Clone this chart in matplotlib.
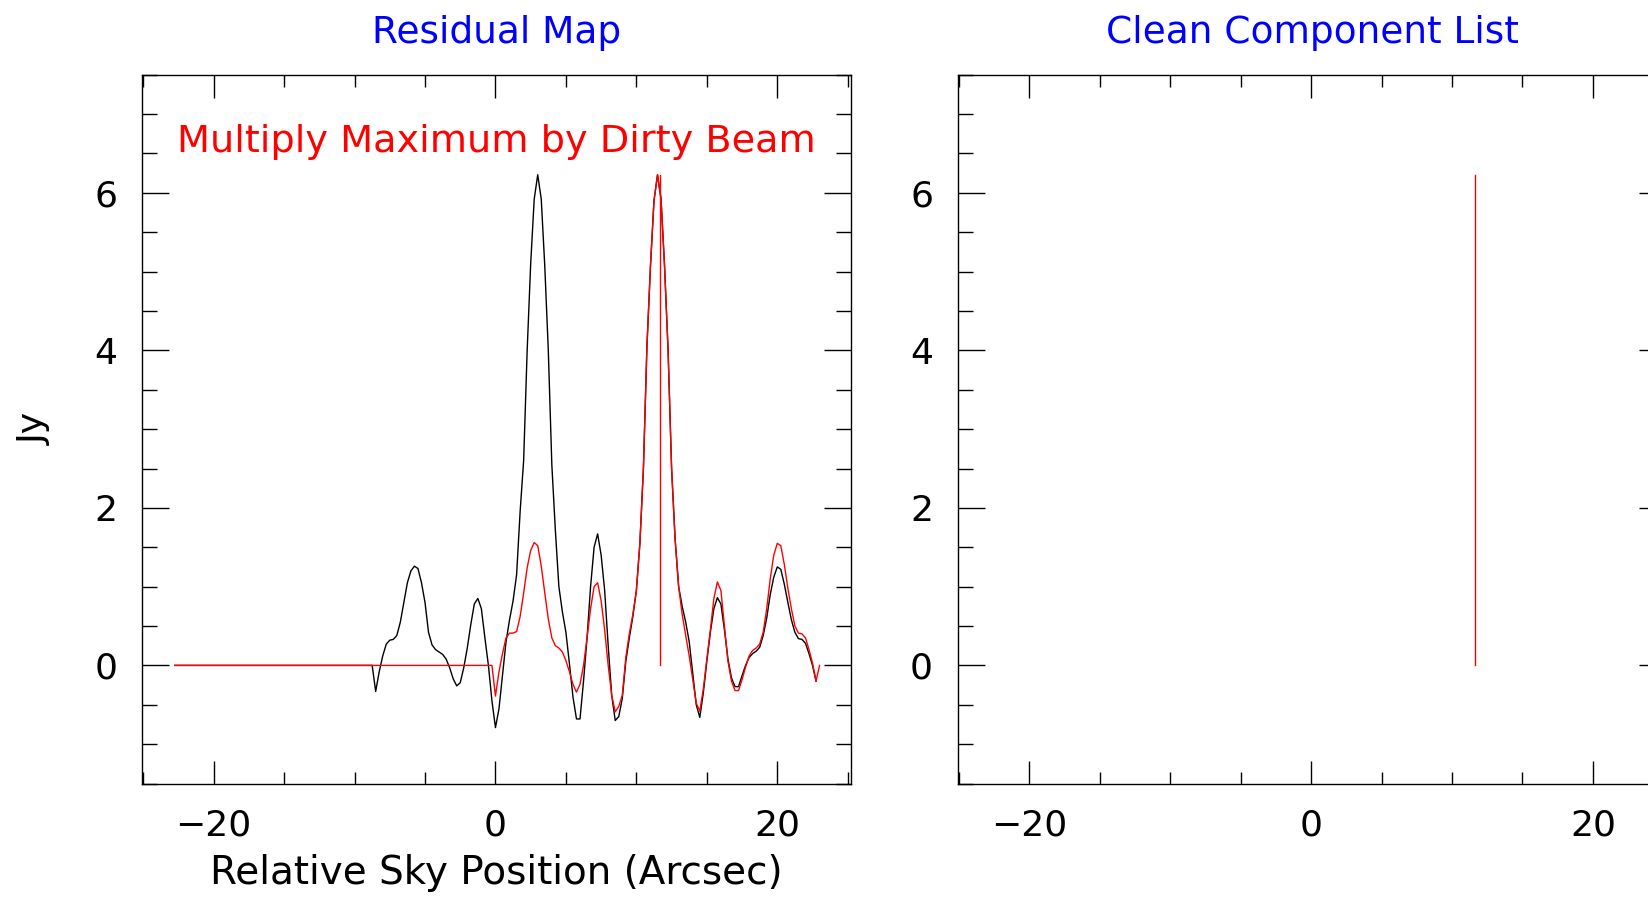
import numpy as np
import matplotlib
matplotlib.use('Agg')
import matplotlib.pyplot as plt
from matplotlib.ticker import MultipleLocator

plt.rcParams['font.family'] = ['DejaVu Sans']
plt.rcParams['font.size'] = 25

# residual map (black)
residual_x = [-22.75, -8.75, -8.5, -8.25, -8.0, -7.75, -7.5, -7.25, -7.0, -6.75, -6.5, -6.25,
              -6.0, -5.75, -5.5, -5.25, -5.0, -4.75, -4.5, -4.25, -4.0, -3.75, -3.5, -3.25,
              -3.0, -2.75, -2.5, -2.25, -2.0, -1.75, -1.5, -1.25, -1.0, -0.75, -0.5, -0.25,
              0.0, 0.25, 0.5, 0.75, 1.0, 1.25, 1.5, 1.75, 2.0, 2.25, 2.5, 2.75,
              3.0, 3.25, 3.5, 3.75, 4.0, 4.25, 4.5, 4.75, 5.0, 5.25, 5.5, 5.75,
              6.0, 6.25, 6.5, 6.75, 7.0, 7.25, 7.5, 7.75, 8.0, 8.25, 8.5, 8.75,
              9.0, 9.25, 9.5, 9.75, 10.0, 10.25, 10.5, 10.75, 11.0, 11.25, 11.5, 11.75,
              12.0, 12.25, 12.5, 12.75, 13.0, 13.25, 13.5, 13.75, 14.0, 14.25, 14.5, 14.75,
              15.0, 15.25, 15.5, 15.75, 16.0, 16.25, 16.5, 16.75, 17.0, 17.25, 17.5, 17.75,
              18.0, 18.25, 18.5, 18.75, 19.0, 19.25, 19.5, 19.75, 20.0, 20.25, 20.5, 20.75,
              21.0, 21.25, 21.5, 21.75, 22.0, 22.25, 22.5, 22.75]
residual_y = [0.0, 0.0, -0.33, -0.08, 0.12, 0.27, 0.32, 0.33, 0.38, 0.55, 0.80, 1.05,
              1.20, 1.26, 1.23, 1.05, 0.80, 0.42, 0.26, 0.20, 0.17, 0.14, 0.08, -0.03,
              -0.17, -0.26, -0.22, -0.03, 0.22, 0.52, 0.78, 0.85, 0.72, 0.35, 0.0, -0.45,
              -0.79, -0.55, -0.12, 0.30, 0.58, 0.82, 1.15, 1.95, 2.60, 4.00, 5.10, 5.92,
              6.23, 5.92, 5.07, 4.00, 2.55, 1.72, 1.00, 0.68, 0.42, 0.02, -0.40, -0.68,
              -0.68, -0.20, 0.35, 1.00, 1.50, 1.67, 1.40, 0.95, 0.25, -0.38, -0.70, -0.65,
              -0.42, 0.05, 0.35, 0.62, 0.95, 1.55, 2.50, 4.05, 5.07, 5.90, 6.23, 5.92,
              5.07, 4.00, 2.50, 1.60, 1.00, 0.75, 0.55, 0.30, -0.10, -0.50, -0.66, -0.35,
              0.05, 0.42, 0.72, 0.86, 0.78, 0.45, 0.08, -0.16, -0.27, -0.27, -0.13, 0.0,
              0.10, 0.15, 0.18, 0.23, 0.38, 0.60, 0.90, 1.12, 1.25, 1.22, 1.03, 0.80,
              0.58, 0.42, 0.34, 0.33, 0.28, 0.15, 0.0, -0.20]

# maximum times dirty beam (red)
beam_x = [-22.75, -0.25, 0.0, 0.25, 0.5, 0.75, 1.0, 1.25, 1.5, 1.75, 2.0, 2.25, 2.5, 2.75,
          3.0, 3.25, 3.5, 3.75, 4.0, 4.25, 4.5, 4.75, 5.0, 5.25, 5.5, 5.75,
          6.0, 6.25, 6.5, 6.75, 7.0, 7.25, 7.5, 7.75, 8.0, 8.25, 8.5, 8.75,
          9.0, 9.25, 9.5, 9.75, 10.0, 10.25, 10.5, 10.75, 11.0, 11.25, 11.5, 11.75,
          12.0, 12.25, 12.5, 12.75, 13.0, 13.25, 13.5, 13.75, 14.0, 14.25, 14.5, 14.75,
          15.0, 15.25, 15.5, 15.75, 16.0, 16.25, 16.5, 16.75, 17.0, 17.25, 17.5, 17.75,
          18.0, 18.25, 18.5, 18.75, 19.0, 19.25, 19.5, 19.75, 20.0, 20.25, 20.5, 20.75,
          21.0, 21.25, 21.5, 21.75, 22.0, 22.25, 22.5, 22.75, 23.0]
beam_y = [0.0, 0.0, -0.39, -0.08, 0.15, 0.35, 0.41, 0.41, 0.43, 0.62, 0.92, 1.24, 1.46, 1.56,
          1.52, 1.26, 0.92, 0.59, 0.35, 0.25, 0.22, 0.17, 0.06, -0.08, -0.24, -0.34,
          -0.24, 0.0, 0.35, 0.72, 1.00, 1.05, 0.82, 0.45, 0.0, -0.38, -0.59, -0.52,
          -0.38, 0.10, 0.40, 0.65, 0.95, 1.55, 2.50, 4.05, 5.07, 5.90, 6.23, 5.92,
          5.07, 4.00, 2.50, 1.60, 1.00, 0.65, 0.38, 0.12, -0.18, -0.48, -0.58, -0.30,
          0.08, 0.45, 0.85, 1.06, 0.95, 0.50, 0.05, -0.20, -0.32, -0.32, -0.18, -0.02,
          0.12, 0.19, 0.22, 0.27, 0.42, 0.72, 1.10, 1.40, 1.55, 1.52, 1.28, 0.98,
          0.72, 0.50, 0.41, 0.40, 0.35, 0.20, 0.03, -0.20, 0.0]

# clean component
component_x = 11.65
component_flux = 6.23

xlim = (-25.05, 25.2)
ylim = (-1.5, 7.5)


def style_axes(ax):
    ax.set_xlim(*xlim)
    ax.set_ylim(*ylim)
    ax.xaxis.set_major_locator(MultipleLocator(20))
    ax.xaxis.set_minor_locator(MultipleLocator(5))
    ax.yaxis.set_major_locator(MultipleLocator(2))
    ax.yaxis.set_minor_locator(MultipleLocator(0.5))
    ax.tick_params(axis='both', which='both', direction='in', top=True, right=True,
                   width=1.0, colors='black', labelsize=26)
    ax.tick_params(axis='x', which='major', length=16.5, pad=18)
    ax.tick_params(axis='x', which='minor', length=8.6)
    ax.tick_params(axis='y', which='major', length=19.5, pad=18)
    ax.tick_params(axis='y', which='minor', length=10.5)
    for s in ax.spines.values():
        s.set_linewidth(1.0)


fig = plt.figure(figsize=(16.49, 8.97), dpi=100)
ax1 = fig.add_axes([0.0864, 0.1265, 0.4294, 0.7902])
ax2 = fig.add_axes([0.5810, 0.1265, 0.4294, 0.7902])

style_axes(ax1)
ax1.plot(residual_x, residual_y, color='black', linewidth=1.0)
ax1.plot(beam_x, beam_y, color='red', linewidth=1.0)
ax1.plot([component_x, component_x], [0, component_flux], color='red', linewidth=1.0)
ax1.set_title('Residual Map', color='blue', fontsize=27, pad=23)
ax1.text(0.5, 0.905, 'Multiply Maximum by Dirty Beam', color='red', fontsize=27.5,
         ha='center', va='center', transform=ax1.transAxes)
ax1.set_xlabel('Relative Sky Position (Arcsec)', fontsize=28, labelpad=8)
ax1.set_ylabel('Jy', fontsize=26, labelpad=31)

style_axes(ax2)
ax2.plot([component_x, component_x], [0, component_flux], color='red', linewidth=1.0)
ax2.set_title('Clean Component List', color='blue', fontsize=27, pad=23)

fig.savefig('out.png', dpi=100)
